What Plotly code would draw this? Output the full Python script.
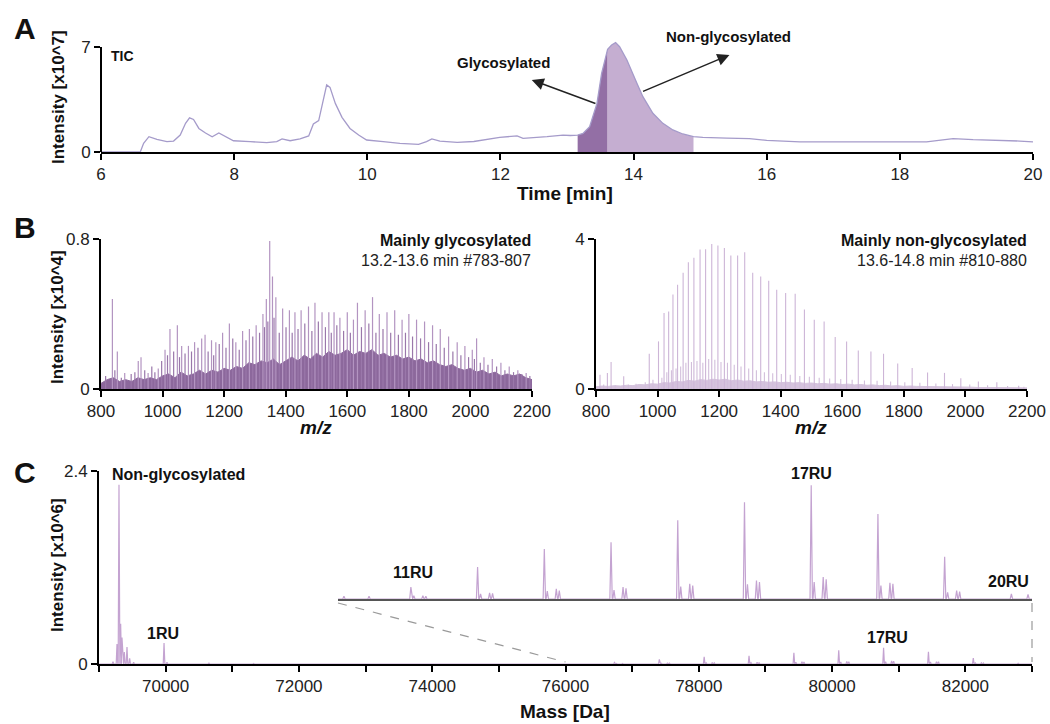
import plotly.graph_objects as go

W, H = 1050, 724
FONT = "Liberation Sans, Arial, sans-serif"

# ---------------- Panel A: TIC (intensity x10^7) ----------------
tic_time = [6.0, 6.59, 6.64, 6.72, 6.84, 6.99, 7.09, 7.19, 7.27, 7.33, 7.39, 7.47, 7.57, 7.67, 7.77,
            7.84, 7.99, 8.24, 8.49, 8.64, 8.72, 8.84, 8.99, 9.12, 9.19, 9.27, 9.32, 9.39, 9.44, 9.52,
            9.62, 9.74, 9.87, 9.99, 10.24, 10.49, 10.77, 10.89, 10.97, 11.09, 11.35, 11.6, 11.99, 12.25,
            12.34, 12.5, 12.7, 12.94, 13.05, 13.16, 13.24, 13.34, 13.45, 13.52, 13.61, 13.67, 13.73,
            13.79, 13.9, 14.05, 14.14, 14.29, 14.44, 14.59, 14.74, 14.9, 15.04, 15.4, 15.74, 16.0, 16.5,
            17.0, 17.5, 18.0, 18.4, 18.8, 19.1, 19.5, 19.8, 20.0]
tic_int = [0, 0, 0.58, 1.02, 0.84, 0.69, 0.73, 1.13, 1.91, 2.28, 2.17, 1.57, 1.27, 1.02, 1.27,
           1.11, 0.75, 0.69, 0.62, 0.69, 0.87, 0.75, 0.87, 1.07, 1.87, 2.09, 3.02, 4.47, 4.31, 3.24,
           2.31, 1.57, 1.13, 0.8, 0.69, 0.58, 0.51, 0.69, 0.87, 0.73, 0.64, 0.7, 0.98, 1.07,
           0.91, 0.95, 1.02, 1.13, 1.1, 1.13, 1.24, 1.69, 3.24, 5.24, 6.85, 7.13, 7.29,
           7.02, 6.13, 4.58, 3.69, 2.58, 1.91, 1.47, 1.2, 1.02, 0.98, 0.93, 0.89, 0.78, 0.67,
           0.67, 0.69, 0.67, 0.67, 0.89, 0.82, 0.78, 0.73, 0.67]
glyco_window = [13.16, 13.61]
nonglyco_window = [13.61, 14.90]

# ---------------- Panel B left: mainly glycosylated (x10^4) ----------------
bl_peak_mz = [837, 853, 877, 921, 930, 953, 986, 1008, 1024, 1048, 1062, 1084, 1104, 1127, 1138, 1159,
              1173, 1195, 1217, 1238, 1260, 1282, 1304, 1326, 1337, 1348, 1357, 1368, 1390, 1412, 1430,
              1450, 1474, 1495, 1518, 1540, 1557, 1576, 1600, 1620, 1633, 1658, 1682, 1704, 1729, 1754,
              1778, 1800, 1825, 1851, 1877, 1902, 1929, 1957, 1982, 2006, 2020, 2044, 2071, 2099, 2126,
              2154, 2181]
bl_peak_int = [0.48, 0.2, 0.085, 0.15, 0.17, 0.085, 0.11, 0.21, 0.32, 0.34, 0.23, 0.23, 0.25, 0.27, 0.29, 0.26,
               0.25, 0.3, 0.35, 0.25, 0.31, 0.32, 0.34, 0.4, 0.48, 0.79, 0.6, 0.49, 0.43, 0.42, 0.41,
               0.42, 0.44, 0.46, 0.41, 0.41, 0.41, 0.38, 0.41, 0.37, 0.46, 0.42, 0.49, 0.4, 0.41, 0.42,
               0.37, 0.4, 0.37, 0.36, 0.34, 0.32, 0.28, 0.25, 0.23, 0.21, 0.27, 0.17, 0.16, 0.14, 0.12,
               0.1, 0.085]
bl_mid_mz = [815, 845, 866, 898, 910, 942, 965, 975, 997, 1016, 1036, 1055, 1073, 1094, 1115, 1148, 1166,
             1184, 1206, 1228, 1249, 1271, 1293, 1315, 1331, 1342, 1362, 1379, 1401, 1421, 1440, 1462,
             1485, 1506, 1529, 1548, 1566, 1588, 1610, 1646, 1670, 1693, 1716, 1741, 1766, 1789, 1812,
             1838, 1864, 1889, 1915, 1943, 1969, 1994, 2013, 2032, 2057, 2085, 2112, 2140, 2167, 2193]
bl_mid_int = [0.07, 0.1, 0.06, 0.08, 0.09, 0.1, 0.12, 0.09, 0.15, 0.18, 0.2, 0.17, 0.19, 0.2, 0.22, 0.2, 0.18,
              0.24, 0.22, 0.27, 0.21, 0.26, 0.28, 0.3, 0.33, 0.36, 0.38, 0.3, 0.33, 0.3, 0.32, 0.35,
              0.31, 0.36, 0.33, 0.3, 0.34, 0.31, 0.3, 0.33, 0.35, 0.3, 0.32, 0.3, 0.29, 0.3, 0.28,
              0.27, 0.25, 0.24, 0.22, 0.2, 0.18, 0.17, 0.16, 0.14, 0.13, 0.12, 0.1, 0.09, 0.08, 0.07]
bl_floor_mz = list(range(800, 2201, 20))
bl_floor_int = [0.03, 0.05, 0.06, 0.04, 0.05, 0.04, 0.06, 0.05, 0.06, 0.05, 0.07,
                0.08, 0.06, 0.09, 0.07, 0.08, 0.1, 0.08, 0.1, 0.09, 0.11, 0.1, 0.12, 0.11, 0.14, 0.13,
                0.15, 0.14, 0.16, 0.13, 0.15, 0.17, 0.15, 0.18, 0.16, 0.19, 0.17, 0.2, 0.18, 0.19, 0.21,
                0.18, 0.2, 0.19, 0.21, 0.18, 0.19, 0.17, 0.18, 0.16, 0.17, 0.15, 0.16, 0.14, 0.15, 0.13,
                0.12, 0.13, 0.11, 0.1, 0.11, 0.09, 0.1, 0.08, 0.09, 0.07, 0.08, 0.07, 0.08, 0.06, 0.05]

# ---------------- Panel B right: mainly non-glycosylated (x10^4) ----------------
br_peak_mz = [813, 837, 849, 890, 973, 1003, 1021, 1036, 1050, 1065, 1083, 1100, 1118, 1138, 1156, 1176,
              1196, 1217, 1238, 1260, 1283, 1309, 1335, 1361, 1387, 1416, 1447, 1477, 1509, 1541, 1577,
              1614, 1652, 1693, 1734, 1780, 1827, 1877, 1932, 1985, 2042, 2102, 2173]
br_peak_int = [0.38, 0.43, 0.72, 0.34, 0.94, 1.27, 2.03, 2.07, 2.52, 2.78, 3.1, 3.38, 3.5, 3.72, 3.73, 3.87,
               3.83, 3.76, 3.56, 3.56, 3.65, 3.1, 3.0, 2.89, 2.65, 2.56, 2.54, 2.12, 1.85, 1.8, 1.39,
               1.27, 1.03, 1.0, 0.94, 0.68, 0.56, 0.44, 0.43, 0.29, 0.2, 0.18, 0.09]
br_minor_mz = [825, 862, 905, 930, 960, 985, 1014, 1030, 1045, 1060, 1075, 1092, 1110, 1128, 1147, 1166,
               1186, 1206, 1227, 1249, 1271, 1296, 1321, 1347, 1374, 1402, 1431, 1462, 1493, 1525, 1559,
               1595, 1632, 1672, 1713, 1757, 1803, 1852, 1904, 1958, 2014, 2072, 2137, 2190]
br_minor_int = [0.12, 0.1, 0.12, 0.14, 0.18, 0.25, 0.3, 0.45, 0.5, 0.55, 0.6, 0.7, 0.72, 0.75, 0.7, 0.8,
                0.78, 0.72, 0.7, 0.65, 0.6, 0.55, 0.5, 0.45, 0.42, 0.4, 0.38, 0.35, 0.33, 0.3, 0.28,
                0.27, 0.25, 0.23, 0.22, 0.2, 0.18, 0.17, 0.15, 0.13, 0.12, 0.1, 0.08, 0.06]
br_floor_mz = list(range(800, 2201, 20))
br_floor_int = [0.06, 0.08, 0.07, 0.09, 0.08, 0.1, 0.09, 0.12, 0.11, 0.14, 0.13, 0.17, 0.16, 0.2, 0.19,
                0.23, 0.21, 0.25, 0.23, 0.26, 0.24, 0.26, 0.22, 0.24, 0.21, 0.22, 0.19, 0.2, 0.18, 0.19,
                0.17, 0.18, 0.16, 0.17, 0.15, 0.16, 0.14, 0.15, 0.13, 0.14, 0.12, 0.13, 0.11, 0.12, 0.1,
                0.11, 0.09, 0.1, 0.08, 0.09, 0.07, 0.08, 0.07, 0.07, 0.06, 0.07, 0.06, 0.06, 0.05, 0.06,
                0.05, 0.05, 0.04, 0.05, 0.04, 0.04, 0.04, 0.03, 0.04, 0.03, 0.03]

# ---------------- Panel C: deconvoluted masses (x10^6) ----------------
c_mass = [69210, 69270, 69300, 69325, 69345, 69380, 69420, 69460, 69520, 69976, 70020,
          70560, 70650, 71320, 71650, 71780, 72000, 72660, 73330, 74010, 74700, 75380, 76060, 76313,
          76735, 76765, 76856, 76886,
          77408, 77438, 77529, 77559,
          78081, 78111, 78202, 78232,
          78754, 78784, 78875, 78905,
          79427, 79457, 79548, 79578,
          80100, 80130, 80221, 80251,
          80773, 80803, 80894, 80924,
          81446, 81476, 81567, 81597,
          82119, 82149, 82240, 82270,
          82792, 82960]
c_int = [0.03, 0.25, 2.23, 0.5, 0.33, 0.15, 0.21, 0.07, 0.02, 0.26, 0.02,
         0.008, 0.01, 0.006, 0.008, 0.006, 0.004, 0.004, 0.003, 0.003, 0.004, 0.004, 0.005, 0.005,
         0.021, 0.006, 0.006, 0.005,
         0.057, 0.009, 0.011, 0.01,
         0.089, 0.014, 0.018, 0.015,
         0.101, 0.016, 0.021, 0.019,
         0.140, 0.022, 0.027, 0.024,
         0.172, 0.026, 0.033, 0.030,
         0.202, 0.030, 0.039, 0.035,
         0.151, 0.024, 0.029, 0.027,
         0.075, 0.012, 0.015, 0.013,
         0.009, 0.008]
zoom_range = [76000, 83000]

# ---------------- geometry (pixels) ----------------
def px(x):
    return x / W

def py(y):
    return 1 - y / H

A_x, A_y = [101, 1033], [152, 47]
A_ymax = 7.4  # axis range headroom so the TIC apex is not clipped
BL_x, BL_y = [101, 532], [389, 239]
BR_x, BR_y = [596, 1027], [389, 239]
C_x, C_y = [99, 1032], [664, 471]
I_x, I_y = [338, 1032], [599, 470]

def sticks(mz, h):
    xs, ys = [], []
    for m, v in zip(mz, h):
        xs += [m, m, None]
        ys += [0, v, None]
    return xs, ys

def profile(mass, inten, w, lo, hi):
    pairs = sorted(zip(mass, inten))
    xs, ys = [lo], [0]
    for m, v in pairs:
        xs += [m - w, m, m + w]
        ys += [0, v, 0]
    xs.append(hi)
    ys.append(0)
    return xs, ys

fig = go.Figure()

def subset(t, v, lo, hi):
    pts = [(a, b) for a, b in zip(t, v) if lo <= a <= hi]
    return [p[0] for p in pts], [p[1] for p in pts]

gx, gy = subset(tic_time, tic_int, *glyco_window)
nx, ny = subset(tic_time, tic_int, *nonglyco_window)
fig.add_trace(go.Scatter(x=gx, y=gy, fill="tozeroy", mode="lines", line=dict(width=0, color="#936fa5"),
                         fillcolor="#936fa5", xaxis="x", yaxis="y", hoverinfo="skip"))
fig.add_trace(go.Scatter(x=nx, y=ny, fill="tozeroy", mode="lines", line=dict(width=0, color="#c5aed1"),
                         fillcolor="#c5aed1", xaxis="x", yaxis="y", hoverinfo="skip"))
fig.add_trace(go.Scatter(x=tic_time, y=tic_int, mode="lines", line=dict(width=1.3, color="#a59bca"),
                         xaxis="x", yaxis="y"))

# Panel B left
fig.add_trace(go.Scatter(x=bl_floor_mz, y=bl_floor_int, fill="tozeroy", mode="lines",
                         line=dict(width=1, color="#8c689c"), fillcolor="#8c689c", xaxis="x2", yaxis="y2"))
sx, sy = sticks(bl_mid_mz, bl_mid_int)
fig.add_trace(go.Scatter(x=sx, y=sy, mode="lines", line=dict(width=1.2, color="#9a77aa"), xaxis="x2", yaxis="y2"))
sx, sy = sticks(bl_peak_mz, bl_peak_int)
fig.add_trace(go.Scatter(x=sx, y=sy, mode="lines", line=dict(width=1.2, color="#b394c1"), xaxis="x2", yaxis="y2"))

# Panel B right
fig.add_trace(go.Scatter(x=br_floor_mz, y=br_floor_int, fill="tozeroy", mode="lines",
                         line=dict(width=1, color="#d5c3dd"), fillcolor="#d5c3dd", xaxis="x3", yaxis="y3"))
sx, sy = sticks(br_minor_mz, br_minor_int)
fig.add_trace(go.Scatter(x=sx, y=sy, mode="lines", line=dict(width=1.1, color="#d2bedb"), xaxis="x3", yaxis="y3"))
sx, sy = sticks(br_peak_mz, br_peak_int)
fig.add_trace(go.Scatter(x=sx, y=sy, mode="lines", line=dict(width=1.1, color="#cdb5d7"), xaxis="x3", yaxis="y3"))

# Panel C main + inset
cx, cy = profile(c_mass, c_int, 12, 69000, 83000)
fig.add_trace(go.Scatter(x=cx, y=cy, mode="lines", line=dict(width=1.2, color="#c4a3d1"), xaxis="x4", yaxis="y4"))
fig.add_trace(go.Scatter(x=cx, y=cy, mode="lines", line=dict(width=1.2, color="#c4a3d1"), xaxis="x5", yaxis="y5"))

axis_common = dict(showline=True, linecolor="black", linewidth=2, ticks="outside", ticklen=6,
                   tickwidth=2, tickcolor="black", showgrid=False, zeroline=False, automargin=False,
                   tickfont=dict(family=FONT, size=17, color="#222"))
axis_noline = dict(axis_common)
axis_noline["showline"] = False

A_top_px = A_y[0] - (A_y[0] - A_y[1]) * A_ymax / 7.0

fig.update_layout(
    template="none",
    width=W, height=H, margin=dict(l=0, r=0, t=0, b=0), showlegend=False,
    plot_bgcolor="white", paper_bgcolor="white",
    xaxis=dict(domain=[px(A_x[0]), px(A_x[1])], anchor="y", range=[6, 20], tickvals=[6, 8, 10, 12, 14, 16, 18, 20], **axis_common),
    yaxis=dict(domain=[py(A_y[0]), py(A_top_px)], anchor="x", range=[0, A_ymax], tickvals=[0, 7], **axis_noline),
    xaxis2=dict(domain=[px(BL_x[0]), px(BL_x[1])], anchor="y2", range=[800, 2200], tickvals=list(range(800, 2201, 200)), **axis_common),
    yaxis2=dict(domain=[py(BL_y[0]), py(BL_y[1])], anchor="x2", range=[0, 0.8], tickvals=[0, 0.8], ticktext=["0", "0.8"], **axis_common),
    xaxis3=dict(domain=[px(BR_x[0]), px(BR_x[1])], anchor="y3", range=[800, 2200], tickvals=list(range(800, 2201, 200)), **axis_common),
    yaxis3=dict(domain=[py(BR_y[0]), py(BR_y[1])], anchor="x3", range=[0, 4], tickvals=[0, 4], **axis_common),
    xaxis4=dict(domain=[px(C_x[0]), px(C_x[1])], anchor="y4", range=[69000, 83000],
                tickvals=list(range(69000, 83001, 1000)),
                ticktext=[str(v) if v % 2000 == 0 else "" for v in range(69000, 83001, 1000)], **axis_common),
    yaxis4=dict(domain=[py(C_y[0]), py(C_y[1])], anchor="x4", range=[0, 2.4], tickvals=[0, 2.4], ticktext=["0", "2.4"], **axis_common),
    xaxis5=dict(domain=[px(I_x[0]), px(I_x[1])], anchor="y5", range=zoom_range, showline=True, linecolor="#555",
                linewidth=2, ticks="", showticklabels=False, showgrid=False, zeroline=False, automargin=False),
    yaxis5=dict(domain=[py(I_y[0]), py(I_y[1])], anchor="x5", range=[0, (I_y[0] - I_y[1]) / 563.0],
                visible=False, automargin=False),
)

# Panel A y-axis line drawn only from 0 to 7
fig.add_shape(type="line", xref="paper", yref="y", x0=px(A_x[0]), x1=px(A_x[0]), y0=0, y1=7,
              line=dict(color="black", width=2))

# dashed zoom connector lines (derived from axis geometry)
c_x0, c_x1 = px(C_x[0]), px(C_x[1])
def c_paper(m):
    return c_x0 + (m - 69000) / (83000 - 69000) * (c_x1 - c_x0)

fig.add_shape(type="line", xref="paper", yref="paper", x0=px(I_x[0]), y0=py(I_y[0] + 4),
              x1=c_paper(zoom_range[0]), y1=py(C_y[0] - 2), line=dict(color="#9a9a9a", width=1.2, dash="dash"))
fig.add_shape(type="line", xref="paper", yref="paper", x0=c_paper(zoom_range[1]), y0=py(I_y[0] + 4),
              x1=c_paper(zoom_range[1]), y1=py(C_y[0] - 2), line=dict(color="#9a9a9a", width=1.2, dash="dash"))

def txt(x, y, s, size=16, bold=False, xanchor="center", angle=0, color="#111", italic=False):
    t = s
    if italic:
        t = "<i>" + t + "</i>"
    if bold:
        t = "<b>" + t + "</b>"
    fig.add_annotation(x=px(x), y=py(y), xref="paper", yref="paper", text=t, showarrow=False,
                       xanchor=xanchor, yanchor="middle", textangle=angle,
                       font=dict(family=FONT, size=size, color=color))

# panel letters
txt(25, 28, "A", 30, True)
txt(25, 228, "B", 30, True)
txt(25, 472, "C", 30, True)

# axis titles
txt(59, 97, "Intensity [x10^7]", 17, True, angle=-90)
txt(57, 317, "Intensity [x10^4]", 17, True, angle=-90)
txt(57, 565, "Intensity [x10^6]", 17, True, angle=-90)
txt(565, 193, "Time [min]", 19, True)
txt(316, 427, "m/z", 19, True, italic=True)
txt(811, 427, "m/z", 19, True, italic=True)
txt(565, 711, "Mass [Da]", 19, True)

# Panel A labels and arrows
txt(122, 56, "TIC", 14, True)
txt(503, 62, "Glycosylated", 15, True)
txt(728, 37, "Non-glycosylated", 15, True)
fig.add_annotation(x=12.47, y=4.8, ax=13.45, ay=3.2, xref="x", yref="y", axref="x", ayref="y", text="",
                   showarrow=True, arrowhead=2, arrowsize=1.6, arrowwidth=1.5, arrowcolor="#222")
fig.add_annotation(x=15.44, y=6.47, ax=14.12, ay=4.0, xref="x", yref="y", axref="x", ayref="y", text="",
                   showarrow=True, arrowhead=2, arrowsize=1.6, arrowwidth=1.5, arrowcolor="#222")

# Panel B labels
txt(533, 240, "Mainly glycosylated", 16, True, xanchor="right")
txt(533, 261, "13.2-13.6 min #783-807", 16, False, xanchor="right", color="#222")
txt(1029, 240, "Mainly non-glycosylated", 16, True, xanchor="right")
txt(1029, 261, "13.6-14.8 min #810-880", 16, False, xanchor="right", color="#222")

# Panel C labels
txt(178, 474, "Non-glycosylated", 16, True)
txt(163, 633, "1RU", 16, True)
txt(413, 572, "11RU", 16, True)
txt(811, 473, "17RU", 16, True)
txt(1008, 581, "20RU", 16, True)
txt(887, 637, "17RU", 16, True)

fig.write_html("out.html", config={"displayModeBar": False},
               post_script="document.body.style.margin='0';document.body.style.padding='0';")
